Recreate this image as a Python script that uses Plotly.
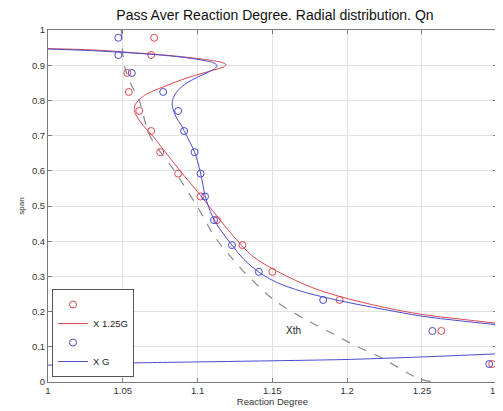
import plotly.graph_objects as go

# ---- data ----
span = [0.978, 0.929, 0.878, 0.824, 0.770, 0.713, 0.653, 0.592, 0.527, 0.460,
        0.389, 0.313, 0.233, 0.145, 0.051]
red_pts_x = [1.071, 1.069, 1.053, 1.054, 1.061, 1.069, 1.075, 1.087, 1.102, 1.113,
             1.130, 1.150, 1.195, 1.263, 1.297]
blue_pts_x = [1.047, 1.047, 1.056, 1.077, 1.087, 1.091, 1.098, 1.102, 1.105, 1.111,
              1.123, 1.141, 1.184, 1.257, 1.295]

red_curve_x = [1.000, 1.020, 1.040, 1.055, 1.069, 1.085, 1.100, 1.110, 1.116, 1.119,
               1.118, 1.113, 1.104, 1.093, 1.078, 1.066, 1.061, 1.058, 1.058, 1.060,
               1.064, 1.069, 1.087, 1.102, 1.115, 1.128, 1.137, 1.150, 1.175, 1.195,
               1.225, 1.250, 1.275, 1.300]
red_curve_y = [0.947, 0.945, 0.941, 0.936, 0.932, 0.926, 0.919, 0.913, 0.908, 0.902,
               0.896, 0.889, 0.878, 0.864, 0.840, 0.818, 0.802, 0.785, 0.767, 0.750,
               0.727, 0.704, 0.607, 0.530, 0.460, 0.395, 0.357, 0.322, 0.271, 0.243,
               0.212, 0.192, 0.179, 0.167]

blue_curve_x = [1.000, 1.020, 1.040, 1.069, 1.085, 1.098, 1.106, 1.111, 1.113, 1.112,
                1.107, 1.100, 1.093, 1.087, 1.084, 1.083, 1.084, 1.086, 1.089, 1.092,
                1.098, 1.102, 1.105, 1.110, 1.116, 1.123, 1.131, 1.141, 1.153, 1.170,
                1.195, 1.225, 1.250, 1.275, 1.300]
blue_curve_y = [0.946, 0.943, 0.939, 0.931, 0.925, 0.918, 0.912, 0.906, 0.899, 0.892,
                0.880, 0.866, 0.850, 0.829, 0.810, 0.790, 0.770, 0.750, 0.730, 0.705,
                0.653, 0.594, 0.530, 0.470, 0.428, 0.389, 0.348, 0.312, 0.283, 0.257,
                0.231, 0.206, 0.187, 0.174, 0.163]

low_blue_x = [1.000, 1.054, 1.100, 1.200, 1.249, 1.300]
low_blue_y = [0.048, 0.054, 0.057, 0.064, 0.071, 0.080]

xth_x = [1.049, 1.051, 1.055, 1.061, 1.068, 1.085, 1.100, 1.112, 1.124, 1.131,
         1.151, 1.173, 1.187, 1.207, 1.222, 1.247, 1.257]
xth_y = [1.000, 0.900, 0.850, 0.800, 0.700, 0.597, 0.497, 0.409, 0.347, 0.313,
         0.233, 0.176, 0.145, 0.100, 0.071, 0.011, 0.000]

x_tick_start, x_tick_step = 1.0, 0.05
y_ticks = [0, 0.1, 0.2, 0.3, 0.4, 0.5, 0.6, 0.7, 0.8, 0.9, 1]
y_tick_labels = ["0", "0.1", "0.2", "0.3", "0.4", "0.5", "0.6", "0.7", "0.8", "0.9", "1"]

RED = "#e0474f"
BLUE = "#4a4ad0"
FONT = "Liberation Sans, Arial, sans-serif"

fig = go.Figure()

fig.add_trace(go.Scatter(x=xth_x, y=xth_y, mode="lines", showlegend=False,
                         line=dict(color="#8a8a8a", width=1.2, dash="dash",
                                   shape="spline", smoothing=0.8)))
fig.add_trace(go.Scatter(x=red_pts_x, y=span, mode="markers", name="",
                         marker=dict(symbol="circle-open", size=7, color=RED,
                                     line=dict(width=1, color=RED))))
fig.add_trace(go.Scatter(x=red_curve_x, y=red_curve_y, mode="lines", name="X 1.25G",
                         line=dict(color=RED, width=1, shape="spline", smoothing=1.0)))
fig.add_trace(go.Scatter(x=blue_pts_x, y=span, mode="markers", name=" ",
                         marker=dict(symbol="circle-open", size=7, color=BLUE,
                                     line=dict(width=1, color=BLUE))))
fig.add_trace(go.Scatter(x=blue_curve_x, y=blue_curve_y, mode="lines", name="X G",
                         line=dict(color=BLUE, width=1, shape="spline", smoothing=1.0)))
fig.add_trace(go.Scatter(x=low_blue_x, y=low_blue_y, mode="lines", showlegend=False,
                         line=dict(color=BLUE, width=1, shape="spline", smoothing=0.6)))

fig.add_annotation(x=1.164, y=0.145, text="Xth", showarrow=False,
                   font=dict(size=10, color="#222222", family=FONT))

axis_common = dict(showline=True, linecolor="#7a7a7a", linewidth=1, mirror="ticks",
                   ticks="inside", ticklen=4, tickcolor="#7a7a7a",
                   showgrid=True, gridcolor="#e2e2e2", gridwidth=1, zeroline=False,
                   automargin=False, ticklabeloverflow="allow",
                   tickfont=dict(size=9.5, color="#333333", family=FONT))

fig.update_xaxes(range=[1, 1.3002], tickmode="linear", tick0=x_tick_start, dtick=x_tick_step,
                 title=dict(text="Reaction Degree", font=dict(size=9.5, color="#333333", family=FONT),
                            standoff=1),
                 **axis_common)
fig.update_yaxes(range=[0, 1.00001], tickvals=y_ticks, ticktext=y_tick_labels,
                 title=dict(text="span", font=dict(size=8, color="#333333", family=FONT),
                            standoff=6),
                 **axis_common)

# the page body adds an 8px offset, so the figure is sized to end near the window edge
fig.update_layout(
    width=499, height=403,
    margin=dict(l=40, r=10, t=22, b=29),
    paper_bgcolor="white", plot_bgcolor="white",
    title=dict(text="Pass Aver Reaction Degree. Radial distribution. Qn",
               x=0.535, xanchor="center", y=0.982, yanchor="middle",
               font=dict(size=14, color="#111111", family=FONT)),
    legend=dict(x=0.009, y=0.014, xanchor="left", yanchor="bottom",
                bgcolor="white", bordercolor="#555555", borderwidth=1,
                font=dict(size=9.5, color="#222222", family=FONT),
                tracegroupgap=0, itemwidth=30),
    showlegend=True,
)

fig.write_html("out.html")
